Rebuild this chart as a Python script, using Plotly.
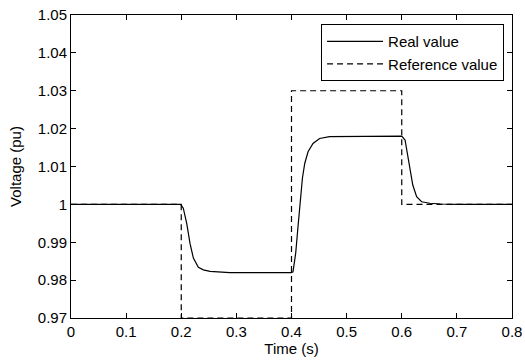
import plotly.graph_objects as go

# Real value (solid)
real_t = [0.0, 0.199, 0.2037, 0.2099, 0.2159, 0.222, 0.231, 0.240, 0.2522, 0.288, 0.350,
          0.3998, 0.4027, 0.4076, 0.4118, 0.4161, 0.4198, 0.424, 0.430, 0.439, 0.451, 0.469, 0.530,
          0.600, 0.606, 0.610, 0.615, 0.620, 0.627, 0.636, 0.651, 0.670, 0.700, 0.800]
real_v = [1.0, 1.0, 0.999, 0.995, 0.9897, 0.9858, 0.9834, 0.9827, 0.9823, 0.982, 0.982,
          0.982, 0.9822, 0.9871, 0.9941, 1.0012, 1.0069, 1.0108, 1.0139, 1.0161, 1.0174, 1.0179, 1.018,
          1.018, 1.017, 1.0135, 1.0091, 1.0051, 1.002, 1.0007, 1.0003, 1.0001, 1.0, 1.0]

# Reference value (dashed step)
ref_t = [0.0, 0.2, 0.2, 0.4, 0.4, 0.6, 0.6, 0.8]
ref_v = [1.0, 1.0, 0.97, 0.97, 1.03, 1.03, 1.0, 1.0]

x_ticks = [0, 0.1, 0.2, 0.3, 0.4, 0.5, 0.6, 0.7, 0.8]
x_labels = ["0", "0.1", "0.2", "0.3", "0.4", "0.5", "0.6", "0.7", "0.8"]
y_ticks = [0.97, 0.98, 0.99, 1.0, 1.01, 1.02, 1.03, 1.04, 1.05]
y_labels = ["0.97", "0.98", "0.99", "1", "1.01", "1.02", "1.03", "1.04", "1.05"]

fig = go.Figure()
fig.add_trace(go.Scatter(x=real_t, y=real_v, mode="lines", name="Real value",
                         line=dict(color="black", width=1.2)))
fig.add_trace(go.Scatter(x=ref_t, y=ref_v, mode="lines", name="Reference value",
                         line=dict(color="black", width=1.2, dash="6px,4px")))

font = dict(family="Liberation Sans, Arial, sans-serif", size=15, color="black")
axis_common = dict(showline=True, linecolor="black", linewidth=1, mirror="ticks",
                   ticks="inside", ticklen=5, tickcolor="black", showgrid=False,
                   zeroline=False, tickfont=font, automargin=False)

fig.update_layout(
    width=525, height=362,
    margin=dict(l=71, r=13, t=15, b=44, autoexpand=False),
    paper_bgcolor="white", plot_bgcolor="white",
    font=font,
    showlegend=True,
    legend=dict(x=0.982, y=0.97, xanchor="right", yanchor="top",
                bordercolor="black", borderwidth=1, bgcolor="white",
                font=font, itemwidth=56, tracegroupgap=0),
    xaxis=dict(range=[0, 0.8], tickvals=x_ticks, ticktext=x_labels,
               title=dict(text="Time (s)", font=font, standoff=2), **axis_common),
    yaxis=dict(range=[0.97, 1.05], tickvals=y_ticks, ticktext=y_labels,
               title=dict(text="Voltage (pu)", font=font, standoff=12), **axis_common),
)

fig.write_html("out.html", config={"displayModeBar": False},
               post_script="document.body.style.margin='0';document.body.style.overflow='hidden';")
